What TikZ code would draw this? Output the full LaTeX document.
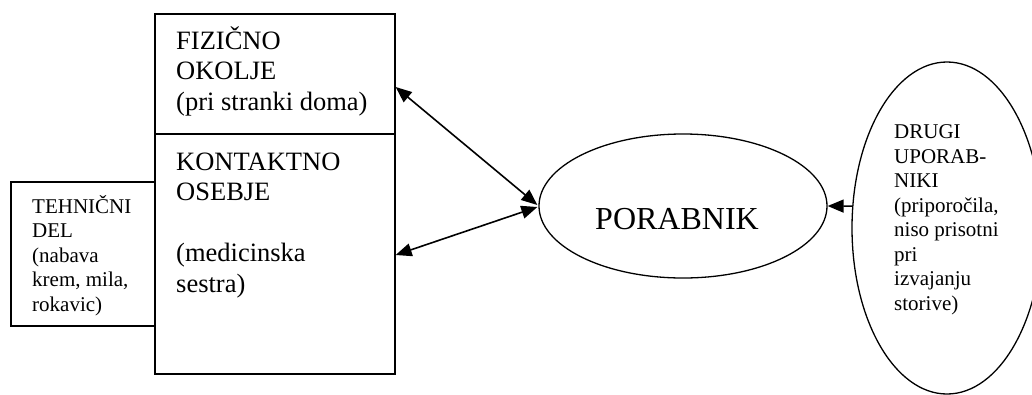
\documentclass[tikz,border=0pt]{standalone}
\usepackage{fontspec}
\setmainfont{Liberation Serif}
\usetikzlibrary{shapes.geometric,arrows.meta,calc}
\tikzset{
  box/.style={draw, line width=1.3pt, inner sep=0pt, minimum width=#1},
  oval/.style={draw, ellipse, line width=1.3pt, inner sep=0pt},
  bigtxt/.style={anchor=base west, align=left, inner sep=0pt,
    font=\fontsize{26.5}{30.5}\selectfont},
  smalltxt/.style={anchor=base west, align=left, inner sep=0pt,
    font=\fontsize{21}{24.5}\selectfont},
  tip/.style={Triangle[length=16pt,width=13pt]},
  arr/.style={line width=1.6pt, -{Triangle[length=16pt,width=13pt]}},
  dblarr/.style={line width=1.6pt, {Triangle[length=16pt,width=13pt]}-{Triangle[length=16pt,width=13pt]}}
}
\begin{document}
\begin{tikzpicture}[x=1pt,y=-1pt]
\useasboundingbox (0,0) rectangle (1032,394);
\begin{scope}
\clip (0,0) rectangle (1032,394);
% main block: physical environment over contact staff
\node[box=240pt, minimum height=120pt] (fiz) at (275,74) {};
\node[box=240pt, minimum height=240pt] (kon) at (275,254) {};
% technical part
\node[box=144pt, minimum height=144pt] (teh) at (83,254) {};
% the user
\node[oval, minimum width=288pt, minimum height=144pt] (por) at (683,206) {};
% other users
\node[oval, minimum width=190pt, minimum height=332pt] (dru) at (947,228) {};
\end{scope}

% multi-line texts are placed by the baseline of their last line
\node[bigtxt] (fiztxt) at (176,110) {FIZIČNO\\OKOLJE\\(pri stranki doma)};
\node[bigtxt] (kontxt) at (176,292) {KONTAKTNO\\OSEBJE\\[30.5pt](medicinska\\sestra)};
\node[smalltxt] (tehtxt) at (32,311) {TEHNIČNI\\DEL\\(nabava\\krem, mila,\\rokavic)};
\node[anchor=base, inner sep=0pt, font=\fontsize{32}{36}\selectfont] (portxt) at (677,229) {PORABNIK};
\node[smalltxt] (drutxt) at (894,310) {DRUGI\\UPORAB-\\NIKI\\(priporočila,\\niso prisotni\\pri\\izvajanju\\storive)};

% connectors
\draw[dblarr] ($(fiz.east)+(0,13)$) -- ($(por.west)+(-1,-1)$);
\draw[dblarr] ($(kon.east)+(0,1)$) -- ($(por.west)+(-1,1)$);
\draw[arr] (dru.167.4) -- (por.east);
\end{tikzpicture}
\end{document}
